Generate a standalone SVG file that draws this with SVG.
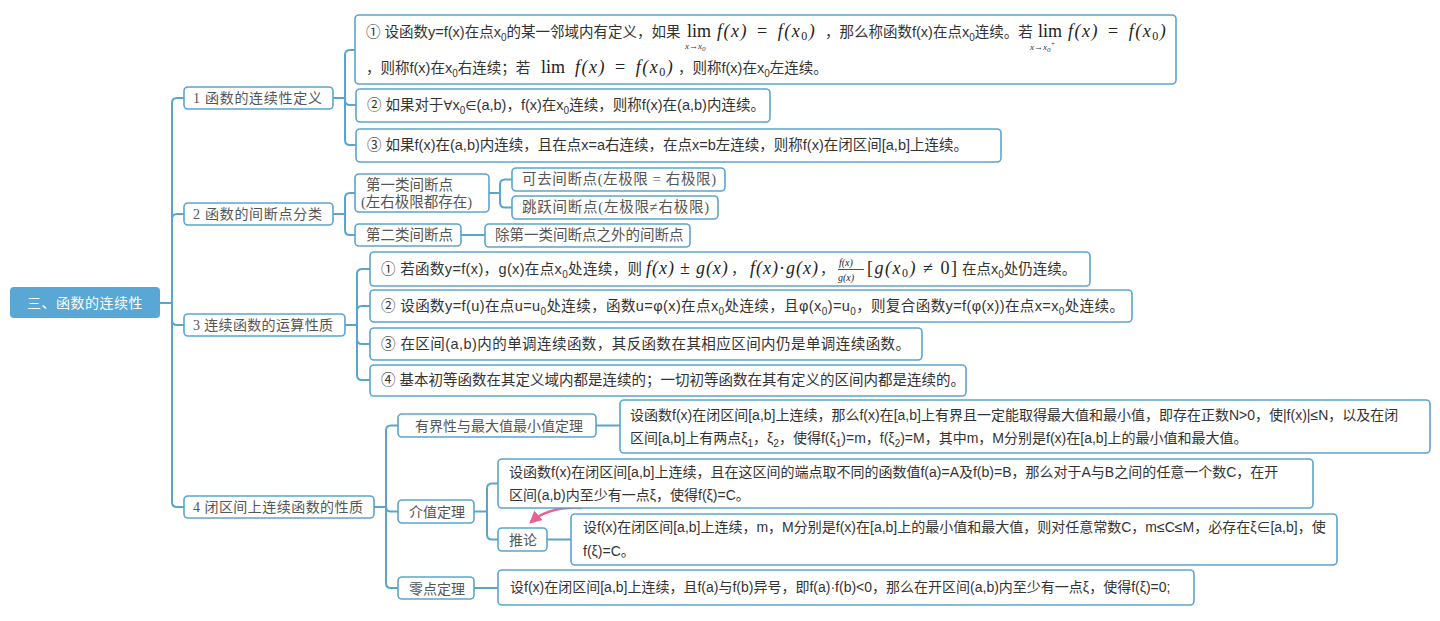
<svg xmlns="http://www.w3.org/2000/svg" width="1440" height="621" viewBox="0 0 1440 621">
<defs>
<style>
.ln{fill:none;stroke:#5ba5cd;stroke-width:2}
.bx{fill:#fff;stroke:#5ba5cd;stroke-width:1.6}
.t1{font-family:"Liberation Serif","Noto Sans CJK SC",serif;font-size:14px;fill:#555}
.t2{font-family:"Liberation Serif","Noto Sans CJK SC",serif;font-size:14.5px;fill:#555}
.tc{font-family:"Liberation Sans","Noto Sans CJK SC",sans-serif;font-size:14px;fill:#333}
.tb{font-family:"Liberation Sans","Noto Sans CJK SC",sans-serif;font-size:14.5px;fill:#333}
.m{font-family:"Liberation Serif",serif;font-style:italic;font-size:18px;letter-spacing:1.5px;fill:#222}
.mu{font-family:"Liberation Serif",serif;font-size:18px;fill:#222}
.ms{font-family:"Liberation Serif",serif;font-style:italic;font-size:9px;fill:#333}
.mf{font-family:"Liberation Serif",serif;font-style:italic;font-size:10px;fill:#222}
.up{font-style:normal}
.sb{font-size:10px}
.sy{font-family:"DejaVu Sans",sans-serif;font-size:13px}
</style>
<marker id="ah" viewBox="0 0 10 10" refX="8" refY="5" markerWidth="5" markerHeight="5" orient="auto">
<path d="M0,0 L10,5 L0,10 z" fill="#e8628d"/>
</marker>
</defs>
<rect width="1440" height="621" fill="#fff"/>

<g id="connectors">
<path class="ln" d="M160,303 H172 M172,303 V103 Q172,98 177,98 H184 M172,303 V219 Q172,214 177,214 H184 M172,303 V320 Q172,325 177,325 H184 M172,303 V502 Q172,507 177,507 H184"/>
<path class="ln" d="M333,98 H345 M345,98 V55 Q345,50 350,50 H355 M345,98 V100 Q345,105 350,105 H356 M345,98 V140 Q345,145 350,145 H356"/>
<path class="ln" d="M333,214 H345 M345,214 V198 Q345,193 350,193 H355 M345,214 V230 Q345,235 350,235 H355"/>
<path class="ln" d="M489,193 H500 M500,193 V184.5 Q500,179.5 505,179.5 H512 M500,193 V202.5 Q500,207.5 505,207.5 H512"/>
<path class="ln" d="M461,235 H485"/>
<path class="ln" d="M345,325 H357 M357,325 V274 Q357,269 362,269 H370 M357,325 V311 Q357,306 362,306 H370 M357,325 V339 Q357,344 362,344 H370 M357,325 V375 Q357,380 362,380 H370"/>
<path class="ln" d="M374,507 H386 M386,507 V430.5 Q386,425.5 391,425.5 H398 M386,507 V506.5 Q386,511.5 391,511.5 H398 M386,507 V583 Q386,588 391,588 H398"/>
<path class="ln" d="M596,425.5 H620"/>
<path class="ln" d="M474,511.5 H487 M487,511.5 V488.5 Q487,483.5 492,483.5 H498 M487,511.5 V534.5 Q487,539.5 492,539.5 H498"/>
<path class="ln" d="M547,539.5 H571"/>
<path class="ln" d="M474,588 H498"/>
<path d="M582,508 Q549,506 531,522" fill="none" stroke="#e8628d" stroke-width="2.5" marker-end="url(#ah)"/>
</g>

<g id="root">
<rect x="10" y="287" width="150" height="31" rx="4" fill="#58a7d4"/>
<text x="85" y="308" text-anchor="middle" style="font-family:'Liberation Serif','Noto Sans CJK SC',serif;font-size:14px;fill:#fff;letter-spacing:0.5px">三、函数的连续性</text>
</g>

<g id="n1">
<rect class="bx" x="184" y="87" width="149" height="22" rx="4"/>
<text class="t1" x="193" y="103" textLength="129" lengthAdjust="spacing">1  函数的连续性定义</text>
</g>
<g id="n2">
<rect class="bx" x="184" y="203" width="149" height="22" rx="4"/>
<text class="t1" x="193" y="219" textLength="129" lengthAdjust="spacing">2  函数的间断点分类</text>
</g>
<g id="n3">
<rect class="bx" x="184" y="314" width="161" height="22" rx="4"/>
<text class="t1" x="193" y="330" textLength="140" lengthAdjust="spacing">3  连续函数的运算性质</text>
</g>
<g id="n4">
<rect class="bx" x="184" y="496" width="190" height="22" rx="4"/>
<text class="t1" x="193" y="512" textLength="170" lengthAdjust="spacing">4  闭区间上连续函数的性质</text>
</g>

<g id="n1a">
<rect class="bx" x="355" y="15" width="821" height="69" rx="4"/>
<text class="tb" x="366" y="37">① 设函数y=f(x)在点x<tspan class="sb" dy="4">0</tspan><tspan dy="-4">的某一邻域内有定义，如果</tspan></text>
<text class="mu" x="687" y="37">lim</text>
<text class="ms" x="685" y="49">x→x<tspan font-size="7" dy="2">0</tspan></text>
<text class="m" x="717" y="37">f(x)<tspan class="up" dx="9">=</tspan><tspan dx="9">f(x</tspan><tspan class="up" font-size="12" dy="3">0</tspan><tspan dy="-3">)</tspan></text>
<text class="tb" x="825" y="37">，那么称函数f(x)在点x<tspan class="sb" dy="4">0</tspan><tspan dy="-4">连续。若</tspan></text>
<text class="mu" x="1038" y="37">lim</text>
<text class="ms" x="1030" y="50">x→x<tspan font-size="7" dy="2">0</tspan><tspan font-size="7" dy="-6">+</tspan></text>
<text class="m" x="1068" y="37">f(x)<tspan class="up" dx="9">=</tspan><tspan dx="9">f(x</tspan><tspan class="up" font-size="12" dy="3">0</tspan><tspan dy="-3">)</tspan></text>
<text class="tb" x="366" y="73">，则称f(x)在x<tspan class="sb" dy="4">0</tspan><tspan dy="-4">右连续；若</tspan></text>
<text class="mu" x="541" y="73">lim</text>
<text class="m" x="575" y="73">f(x)<tspan class="up" dx="9">=</tspan><tspan dx="9">f(x</tspan><tspan class="up" font-size="12" dy="3">0</tspan><tspan dy="-3">)</tspan></text>
<text class="tb" x="678" y="73">，则称f(x)在x<tspan class="sb" dy="4">0</tspan><tspan dy="-4">左连续。</tspan></text>
</g>
<g id="n1b">
<rect class="bx" x="356" y="89" width="414" height="33" rx="4"/>
<text class="tb" x="367" y="110">② 如果对于<tspan class="sy">∀</tspan>x<tspan class="sb" dy="4">0</tspan><tspan class="sy" dy="-4">∈</tspan>(a,b)，f(x)在x<tspan class="sb" dy="4">0</tspan><tspan dy="-4">连续，则称f(x)在(a,b)内连续。</tspan></text>
</g>
<g id="n1c">
<rect class="bx" x="356" y="129" width="645" height="33" rx="4"/>
<text class="tb" x="367" y="150">③ 如果f(x)在(a,b)内连续，且在点x=a右连续，在点x=b左连续，则称f(x)在闭区间[a,b]上连续。</text>
</g>

<g id="n2a">
<rect class="bx" x="355" y="174" width="134" height="38" rx="4"/>
<text class="t2" x="366" y="190">第一类间断点</text>
<text class="t2" x="361" y="207">(左右极限都存在)</text>
</g>
<g id="n2a1">
<rect class="bx" x="512" y="168" width="213" height="23" rx="4"/>
<text class="t2" x="522" y="184" textLength="194" lengthAdjust="spacing">可去间断点(左极限 = 右极限)</text>
</g>
<g id="n2a2">
<rect class="bx" x="512" y="196" width="206" height="23" rx="4"/>
<text class="t2" x="522" y="212" textLength="187" lengthAdjust="spacing">跳跃间断点(左极限≠右极限)</text>
</g>
<g id="n2b">
<rect class="bx" x="355" y="224" width="106" height="22" rx="4"/>
<text class="t2" x="366" y="240">第二类间断点</text>
</g>
<g id="n2b1">
<rect class="bx" x="485" y="224" width="205" height="23" rx="4"/>
<text class="t2" x="495" y="240">除第一类间断点之外的间断点</text>
</g>

<g id="n3a">
<rect class="bx" x="370" y="252" width="720" height="34" rx="4"/>
<text class="tb" x="381" y="274" textLength="261" lengthAdjust="spacing">① 若函数y=f(x)，g(x)在点x<tspan class="sb" dy="4">0</tspan><tspan dy="-4">处连续，则</tspan></text>
<text class="m" x="646" y="274" style="letter-spacing:1px">f(x)<tspan class="up" dx="5">±</tspan><tspan dx="5">g(x)</tspan></text>
<text class="tb" x="731" y="274">，</text>
<text class="m" x="750" y="274" style="letter-spacing:1px">f(x)<tspan class="up">·</tspan>g(x)</text>
<text class="tb" x="820" y="274">，</text>
<text class="mf" x="839" y="266">f(x)</text>
<line x1="838" y1="269.5" x2="864" y2="269.5" stroke="#222" stroke-width="0.8"/>
<text class="mf" x="838" y="281">g(x)</text>
<text class="m" x="867" y="274"><tspan class="up">[</tspan>g(x<tspan class="up" font-size="12" dy="3">0</tspan><tspan dy="-3">)</tspan><tspan class="up" dx="6">≠</tspan><tspan class="up" dx="6">0]</tspan></text>
<text class="tb" x="962" y="274">在点x<tspan class="sb" dy="4">0</tspan><tspan dy="-4">处仍连续。</tspan></text>
</g>
<g id="n3b">
<rect class="bx" x="370" y="290" width="762" height="32" rx="4"/>
<text class="tb" x="381" y="311" textLength="743" lengthAdjust="spacing">② 设函数y=f(u)在点u=u<tspan class="sb" dy="4">0</tspan><tspan dy="-4">处连续，函数u=φ(x)在点x</tspan><tspan class="sb" dy="4">0</tspan><tspan dy="-4">处连续，且φ(x</tspan><tspan class="sb" dy="4">0</tspan><tspan dy="-4">)=u</tspan><tspan class="sb" dy="4">0</tspan><tspan dy="-4">，则复合函数y=f(φ(x))在点x=x</tspan><tspan class="sb" dy="4">0</tspan><tspan dy="-4">处连续。</tspan></text>
</g>
<g id="n3c">
<rect class="bx" x="370" y="328" width="552" height="32" rx="4"/>
<text class="tb" x="381" y="349" textLength="529" lengthAdjust="spacing">③ 在区间(a,b)内的单调连续函数，其反函数在其相应区间内仍是单调连续函数。</text>
</g>
<g id="n3d">
<rect class="bx" x="370" y="365" width="596" height="31" rx="4"/>
<text class="tb" x="381" y="385">④ 基本初等函数在其定义域内都是连续的；一切初等函数在其有定义的区间内都是连续的。</text>
</g>

<g id="n4a">
<rect class="bx" x="398" y="414" width="198" height="23" rx="4"/>
<text class="t1" x="415" y="431">有界性与最大值最小值定理</text>
</g>
<g id="n4a1">
<rect class="bx" x="620" y="400" width="810" height="53" rx="4"/>
<text class="tc" x="630" y="420">设函数f(x)在闭区间[a,b]上连续，那么f(x)在[a,b]上有界且一定能取得最大值和最小值，即存在正数N&gt;0，使|f(x)|≤N，以及在闭</text>
<text class="tc" x="630" y="443">区间[a,b]上有两点ξ<tspan class="sb" dy="4">1</tspan><tspan dy="-4">，ξ</tspan><tspan class="sb" dy="4">2</tspan><tspan dy="-4">，使得f(ξ</tspan><tspan class="sb" dy="4">1</tspan><tspan dy="-4">)=m，f(ξ</tspan><tspan class="sb" dy="4">2</tspan><tspan dy="-4">)=M，其中m，M分别是f(x)在[a,b]上的最小值和最大值。</tspan></text>
</g>
<g id="n4b">
<rect class="bx" x="398" y="500" width="76" height="23" rx="4"/>
<text class="t1" x="409" y="517">介值定理</text>
</g>
<g id="n4b1">
<rect class="bx" x="498" y="459" width="815" height="49" rx="4"/>
<text class="tc" x="509" y="477">设函数f(x)在闭区间[a,b]上连续，且在这区间的端点取不同的函数值f(a)=A及f(b)=B，那么对于A与B之间的任意一个数C，在开</text>
<text class="tc" x="509" y="500">区间(a,b)内至少有一点ξ，使得f(ξ)=C。</text>
</g>
<g id="n4b2">
<rect class="bx" x="498" y="528" width="49" height="23" rx="4"/>
<text class="t1" x="509" y="545">推论</text>
</g>
<g id="n4b2a">
<rect class="bx" x="571" y="514" width="766" height="51" rx="4"/>
<text class="tc" x="583" y="532">设f(x)在闭区间[a,b]上连续，m，M分别是f(x)在[a,b]上的最小值和最大值，则对任意常数C，m≤C≤M，必存在ξ∈[a,b]，使</text>
<text class="tc" x="583" y="556">f(ξ)=C。</text>
</g>
<g id="n4c">
<rect class="bx" x="398" y="577" width="76" height="22" rx="4"/>
<text class="t1" x="409" y="594">零点定理</text>
</g>
<g id="n4c1">
<rect class="bx" x="498" y="570" width="696" height="35" rx="4"/>
<text class="tc" x="510" y="592">设f(x)在闭区间[a,b]上连续，且f(a)与f(b)异号，即f(a)·f(b)&lt;0，那么在开区间(a,b)内至少有一点ξ，使得f(ξ)=0;</text>
</g>
</svg>
